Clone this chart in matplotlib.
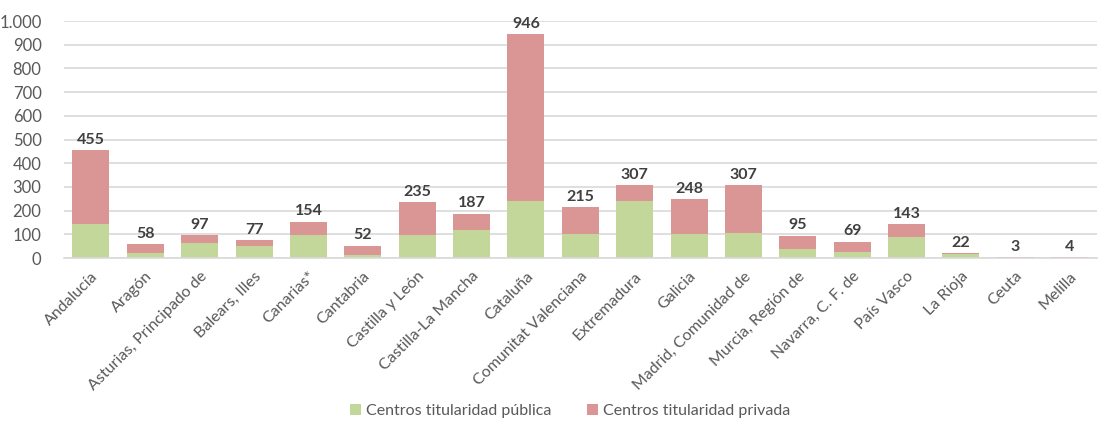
import matplotlib.pyplot as plt
import numpy as np

# datos
comunidades = ['Andalucía', 'Aragón', 'Asturias, Principado de', 'Balears, Illes', 'Canarias*',
               'Cantabria', 'Castilla y León', 'Castilla-La Mancha', 'Cataluña',
               'Comunitat Valenciana', 'Extremadura', 'Galicia', 'Madrid, Comunidad de',
               'Murcia, Región de', 'Navarra, C. F. de', 'País Vasco', 'La Rioja', 'Ceuta', 'Melilla']
totales = [455, 58, 97, 77, 154, 52, 235, 187, 946, 215, 307, 248, 307, 95, 69, 143, 22, 3, 4]
publica = [143, 22, 65, 52, 96, 15, 96, 120, 242, 100, 242, 100, 107, 39, 26, 90, 17, 2, 1]
privada = [t - p for t, p in zip(totales, publica)]

color_pub = '#c4d79b'
color_priv = '#da9694'
gris = '#595959'

plt.rcParams['font.family'] = ['Lato', 'DejaVu Sans']

fig, ax = plt.subplots(figsize=(10.99, 4.21), dpi=100)
fig.subplots_adjust(left=0.058, right=0.998, top=0.95, bottom=0.387)

x = np.arange(len(comunidades))
ax.bar(x, publica, width=0.68, color=color_pub, label='Centros titularidad pública', zorder=2)
ax.bar(x, privada, width=0.68, bottom=publica, color=color_priv,
       label='Centros titularidad privada', zorder=2)

# etiquetas de totales
for xi, t in zip(x, totales):
    ax.text(xi, t + 14, str(t), ha='center', va='bottom', fontsize=11.5,
            fontweight='bold', color='#404040')

ax.set_xlim(-0.5, len(comunidades) - 0.5)
ax.set_ylim(0, 1000)
ax.set_yticks(np.arange(0, 1001, 100))
ax.set_yticklabels(['0', '100', '200', '300', '400', '500', '600', '700', '800', '900', '1.000'])
ax.set_xticks(x)
ax.set_xticklabels(comunidades, rotation=45, ha='right', rotation_mode='anchor')

ax.grid(axis='y', color='#d9d9d9', linewidth=1.2, zorder=0)
for s in ['top', 'right', 'left']:
    ax.spines[s].set_visible(False)
ax.spines['bottom'].set_color('#d9d9d9')
ax.spines['bottom'].set_linewidth(1.2)
ax.tick_params(axis='x', length=0, labelsize=11.5, colors=gris, pad=8)
ax.tick_params(axis='y', length=0, labelsize=12, colors=gris, pad=16)

ax.legend(loc='center', bbox_to_anchor=(0.49, -0.645), ncol=2, frameon=False,
          fontsize=11.5, handlelength=0.7, handleheight=0.7, columnspacing=2.2,
          handletextpad=0.3, labelcolor=gris)

plt.savefig('out.png', dpi=100)
